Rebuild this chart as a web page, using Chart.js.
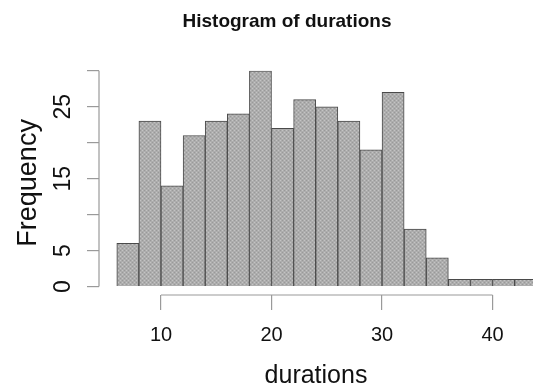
<!DOCTYPE html>
<html>
<head>
<meta charset="utf-8">
<script src="https://cdn.jsdelivr.net/npm/chart.js@4"></script>
<style>
  html, body { margin: 0; padding: 0; background: #fff; }
  #wrap { width: 533px; height: 390px; }
</style>
</head>
<body>
<div id="wrap"><canvas id="histChart"></canvas></div>
<script>
// histogram bins (left edges, width 2) and counts
const binStarts = [6, 8, 10, 12, 14, 16, 18, 20, 22, 24, 26, 28, 30, 32, 34, 36, 38, 40, 42];
const binWidth = 2;
const frequency = [6, 23, 14, 21, 23, 24, 30, 22, 26, 25, 23, 19, 27, 8, 4, 1, 1, 1, 1];
const xTicks = [10, 20, 30, 40];
const yTicks = [0, 5, 10, 15, 20, 25, 30];
const yLabelled = [0, 5, 15, 25];

const sans = "'Liberation Sans', Arial, sans-serif";

// grey stipple fill like the R png device output
function makePattern() {
    const c = document.createElement("canvas");
    c.width = 4; c.height = 4;
    const g = c.getContext("2d");
    g.fillStyle = "#adadad";
    g.fillRect(0, 0, 4, 4);
    g.fillStyle = "#c4c4c4";
    g.fillRect(0, 0, 1, 1);
    g.fillRect(2, 2, 1, 1);
    g.fillStyle = "#999999";
    g.fillRect(2, 0, 1, 1);
    g.fillRect(0, 2, 1, 1);
    return g.createPattern(c, "repeat");
}

// R style axes: lines only span the tick range
const axisLines = {
    id: "axisLines",
    afterDraw(chart) {
        const { ctx, chartArea, scales } = chart;
        ctx.save();
        ctx.strokeStyle = "#9a9a9a";
        ctx.lineWidth = 1.2;
        ctx.beginPath();
        ctx.moveTo(scales.x.getPixelForValue(xTicks[0]), chartArea.bottom);
        ctx.lineTo(scales.x.getPixelForValue(xTicks[xTicks.length - 1]), chartArea.bottom);
        ctx.moveTo(chartArea.left, scales.y.getPixelForValue(yTicks[0]));
        ctx.lineTo(chartArea.left, scales.y.getPixelForValue(yTicks[yTicks.length - 1]));
        ctx.stroke();
        ctx.restore();
    }
};

Chart.defaults.color = "#111";

const ctx = document.getElementById("histChart").getContext("2d");

new Chart(ctx, {
    type: "bar",
    data: {
        datasets: [{
            label: "durations",
            data: binStarts.map((b, i) => ({ x: b + binWidth / 2, y: frequency[i] })),
            backgroundColor: makePattern(),
            borderColor: "#4a4a4a",
            borderWidth: 1,
            barPercentage: 1,
            categoryPercentage: 1
        }]
    },
    options: {
        responsive: true,
        maintainAspectRatio: false,
        animation: false,
        layout: { padding: { left: 41, right: 0, top: 0, bottom: 0 } },
        plugins: {
            legend: { display: false },
            tooltip: { enabled: false },
            title: {
                display: true,
                text: "Histogram of durations",
                color: "#111",
                font: { family: sans, size: 19, weight: "bold", lineHeight: 1.2 },
                padding: { top: 10, bottom: 38 }
            }
        },
        scales: {
            x: {
                type: "linear",
                min: 4.39,
                max: 43.66,
                offset: false,
                afterBuildTicks: s => { s.ticks = xTicks.map(v => ({ value: v })); },
                afterFit: s => { s.height = 95; },
                border: { display: false },
                grid: { offset: false, drawOnChartArea: false, drawTicks: true, tickLength: 15, color: "#9a9a9a", lineWidth: 1.2 },
                ticks: { font: { family: sans, size: 20 }, padding: 13, maxRotation: 0 },
                title: {
                    display: true,
                    text: "durations",
                    font: { family: sans, size: 25, lineHeight: 1.2 },
                    padding: { top: 0, bottom: -1 }
                }
            },
            y: {
                min: -1.18,
                max: 30,
                afterBuildTicks: s => { s.ticks = yTicks.map(v => ({ value: v })); },
                afterFit: s => { s.width = 58; },
                border: { display: false },
                grid: { drawOnChartArea: false, drawTicks: true, tickLength: 12, color: "#9a9a9a", lineWidth: 1.2 },
                ticks: {
                    font: { family: sans, size: 23 },
                    minRotation: 90,
                    maxRotation: 90,
                    crossAlign: "center",
                    padding: 11,
                    callback: v => yLabelled.includes(v) ? String(v) : ""
                },
                title: {
                    display: true,
                    text: "Frequency",
                    font: { family: sans, size: 27, lineHeight: 1.2 },
                    padding: { top: -29, bottom: 0 }
                }
            }
        }
    },
    plugins: [axisLines]
});
</script>
</body>
</html>
